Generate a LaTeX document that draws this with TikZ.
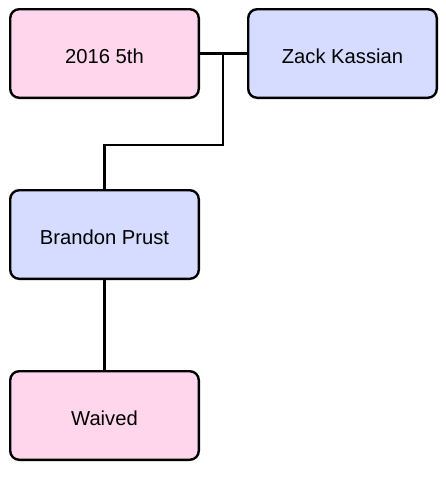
\documentclass[tikz,border=0pt]{standalone}
\usepackage{fontspec}
\setmainfont{Liberation Sans}
\definecolor{pickpink}{RGB}{255,214,235}
\definecolor{playerblue}{RGB}{213,220,255}

\begin{document}
\begin{tikzpicture}[x=1pt, y=-1pt,
    box/.style={draw, line width=2.4pt, rounded corners=9pt, minimum width=188.6pt, minimum height=88.6pt, text height=19.5pt, text depth=0pt, font=\fontsize{20.2}{24}\selectfont},
    pick/.style={box, fill=pickpink},
    player/.style={box, fill=playerblue},
    link/.style={line width=2.6pt}]
    \useasboundingbox (0, 0) rectangle (446, 480);

    \node[pick] (p5) at (104.5, 53.5) {2016 5th};
    \node[player] (kassian) at (342.5, 53.5) {Zack Kassian};
    \node[player] (prust) at (104.5, 234.5) {Brandon Prust};
    \node[pick] (waived) at (104.5, 415.5) {Waived};

    \coordinate (j) at (223, 53.5);
    \coordinate (k) at (223, 145);

    \draw[link] (p5) -- (kassian);
    \draw[link] (j) -- (k) -| (prust.north);
    \draw[link] (prust) -- (waived);
\end{tikzpicture}
\end{document}
